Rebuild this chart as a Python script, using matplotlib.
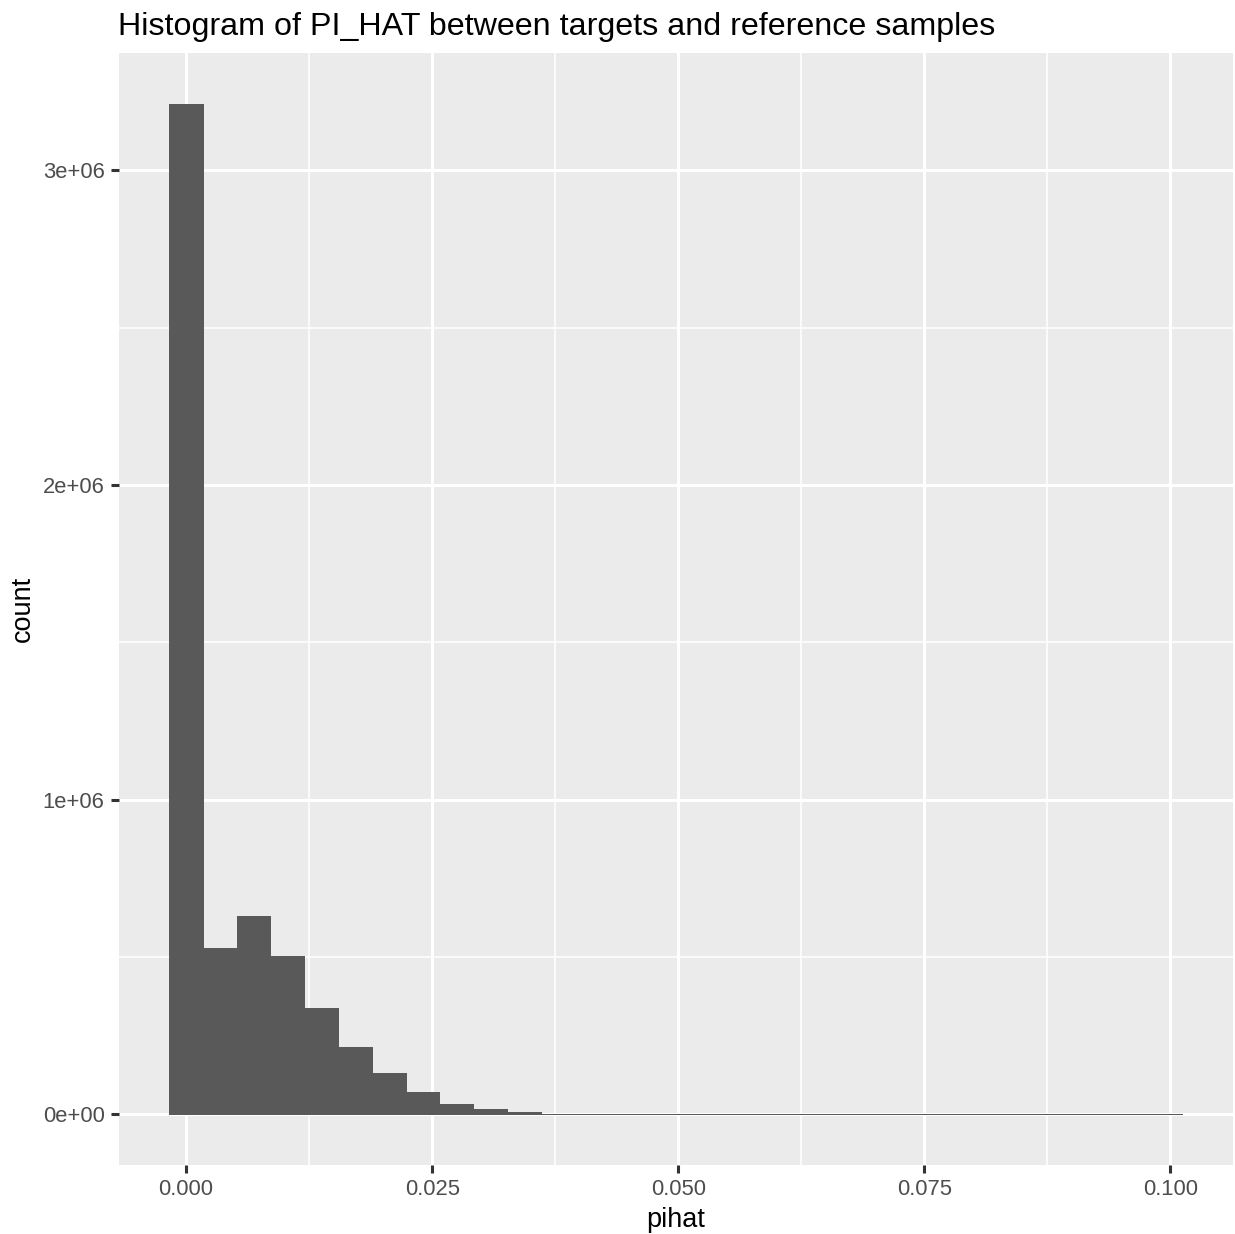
import matplotlib
matplotlib.use("Agg")
import matplotlib.pyplot as plt
import numpy as np
from matplotlib.ticker import FixedLocator

plt.rcParams['font.family'] = ['Liberation Sans', 'DejaVu Sans']

# Histogram of PI_HAT: 30 bins, centres from 0 by the bin width
bin_width = 0.003431
bin_centers = [k * bin_width for k in range(30)]
counts = [3212000, 528000, 630000, 505000, 339000, 215000, 132000, 72000,
          34000, 16000, 7500, 2500, 2000, 1800, 1500, 1200, 900, 500,
          400, 300, 250, 200, 200, 150, 150, 100, 100, 100, 100, 100]

x_ticks = [0.000, 0.025, 0.050, 0.075, 0.100]
x_tick_labels = ["0.000", "0.025", "0.050", "0.075", "0.100"]
y_ticks = [0, 1e6, 2e6, 3e6]
y_tick_labels = ["0e+00", "1e+06", "2e+06", "3e+06"]

W, H = 1235, 1234
fig = plt.figure(figsize=(W / 100, H / 100), dpi=100)
fig.patch.set_facecolor("white")
ax = fig.add_axes([118.5 / W, (H - 1165) / H, (1233 - 118.5) / W, (1165 - 53) / H])
ax.set_facecolor("#EBEBEB")

ax.bar(bin_centers, counts, width=bin_width, color="#595959",
       edgecolor="#595959", linewidth=0.4, antialiased=False, zorder=3)

xmin = bin_centers[0] - bin_width / 2
xmax = bin_centers[-1] + bin_width / 2
xr = xmax - xmin
ax.set_xlim(xmin - 0.05 * xr, xmax + 0.05 * xr)
ymax = max(counts)
ax.set_ylim(-0.05 * ymax, ymax * 1.05)

ax.xaxis.set_major_locator(FixedLocator(x_ticks))
ax.set_xticklabels(x_tick_labels)
ax.xaxis.set_minor_locator(FixedLocator([0.0125, 0.0375, 0.0625, 0.0875]))
ax.yaxis.set_major_locator(FixedLocator(y_ticks))
ax.set_yticklabels(y_tick_labels)
ax.yaxis.set_minor_locator(FixedLocator([0.5e6, 1.5e6, 2.5e6]))

ax.grid(which="major", color="white", linewidth=2.2, zorder=0)
ax.grid(which="minor", color="white", linewidth=1.1, zorder=0)
ax.set_axisbelow(True)
for s in ax.spines.values():
    s.set_visible(False)

ax.tick_params(axis="both", which="major", length=6, width=2.2, color="#333333",
               labelsize=15.8, labelcolor="#4D4D4D", pad=4)
ax.tick_params(axis="both", which="minor", length=0)

ax.set_xlabel("pihat", fontsize=19.5, color="black", labelpad=5)
ax.set_ylabel("count", fontsize=19.5, color="black", labelpad=5)
ax.set_title("Histogram of PI_HAT between targets and reference samples",
             fontsize=23.2, loc="left", pad=13, color="black")

fig.savefig("out.png", dpi=100)
